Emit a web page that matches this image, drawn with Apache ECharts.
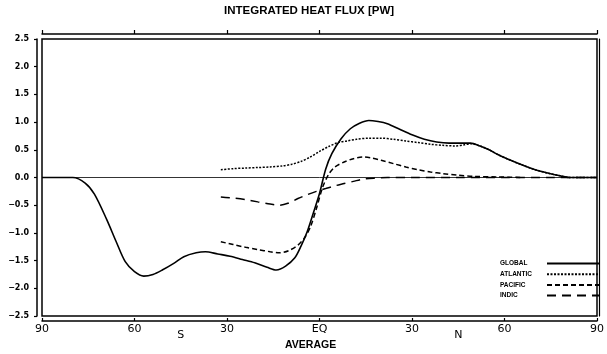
<!DOCTYPE html>
<html>
<head>
<meta charset="utf-8">
<script src="https://cdn.jsdelivr.net/npm/echarts@6/dist/echarts.min.js"></script>
<style>
html,body{margin:0;padding:0;background:#fff;}
#c{width:607px;height:354px;}
</style>
</head>
<body>
<div id="c"></div>
<script>
// Latitude (deg, negative = south) and integrated heat flux (PW)
const globalLat  = [-90,-80,-76,-73,-69,-66,-63,-60,-57,-54,-51,-47,-44,-40,-37,-33,-29,-25,-21,-17,-14,-11,-8,-6,-4,-2,0,2,4,7,10,13,16,19,22,26,30,34,38,42,46,49,52,55,58,62,66,70,74,78,81,85,90];
const globalFlux = [0,0,-0.10,-0.30,-0.76,-1.15,-1.52,-1.70,-1.78,-1.75,-1.67,-1.54,-1.43,-1.36,-1.34,-1.38,-1.42,-1.48,-1.54,-1.62,-1.67,-1.60,-1.45,-1.24,-0.98,-0.64,-0.29,0.15,0.43,0.70,0.88,0.98,1.03,1.01,0.97,0.87,0.77,0.69,0.64,0.62,0.62,0.62,0.57,0.50,0.41,0.31,0.22,0.14,0.08,0.03,0,0,0];

const atlanticLat  = [-32,-28,-24,-20,-16,-12,-9,-6,-3,0,3,6,9,12,16,20,24,28,32,36,40,44,47,49,52,55,58,62,66,70,74,78,81,85,90];
const atlanticFlux = [0.14,0.16,0.17,0.18,0.19,0.21,0.24,0.29,0.37,0.47,0.56,0.63,0.66,0.69,0.71,0.71,0.69,0.66,0.63,0.60,0.58,0.57,0.59,0.61,0.57,0.50,0.41,0.31,0.22,0.14,0.08,0.03,0,0,0];

const pacificLat  = [-32,-28,-24,-20,-16,-13,-10,-7,-5,-3,-1,1,3,5,8,11,14,17,20,24,28,32,36,40,45,50,58,66];
const pacificFlux = [-1.16,-1.21,-1.26,-1.30,-1.34,-1.36,-1.32,-1.22,-1.10,-0.90,-0.56,-0.18,0.06,0.19,0.28,0.34,0.37,0.35,0.31,0.25,0.19,0.14,0.10,0.07,0.04,0.02,0.01,0];

const indicLat  = [-32,-28,-24,-20,-16,-13,-10,-7,-4,-1,2,5,8,11,14,18,22,30,45,60,75,90];
const indicFlux = [-0.35,-0.37,-0.40,-0.44,-0.48,-0.50,-0.46,-0.38,-0.31,-0.25,-0.20,-0.15,-0.11,-0.07,-0.03,-0.01,0,0,0,0,0,0];

const seriesNames = ['GLOBAL','ATLANTIC','PACIFIC','INDIC'];
const latTicks = [-90,-60,-30,0,30,60,90];
const fluxTicks = [-2.5,-2.0,-1.5,-1.0,-0.5,0.0,0.5,1.0,1.5,2.0,2.5];

function zip(a,b){return a.map((v,i)=>[v,b[i]]);}

const chart = echarts.init(document.getElementById('c'), null, {renderer:'canvas'});
const black = '#000';
const option = {
  animation:false,
  backgroundColor:'#fff',
  grid:{left:42,right:7,top:39,bottom:38,show:true,borderColor:black,borderWidth:1.5,backgroundColor:'transparent'},
  graphic:[
    {type:'text',left:224,top:5,style:{text:'INTEGRATED HEAT FLUX [PW]',font:'bold 11.5px "Liberation Sans"',fill:black}},
    {type:'text',top:340,left:285,style:{text:'AVERAGE',font:'bold 10.5px "Liberation Sans"',fill:black}}
  ],
  legend:{
    data:seriesNames,
    orient:'vertical',
    left:500,top:260,padding:0,
    align:'right',
    itemWidth:52,itemHeight:6,itemGap:3.7,
    itemStyle:{opacity:0,borderWidth:0},
    formatter:name=>'{n|'+name+'}',
    textStyle:{fontFamily:'"Liberation Sans"',fontWeight:'bold',fontSize:6.5,color:black,
      rich:{n:{width:42,align:'left',fontFamily:'"Liberation Sans"',fontWeight:'bold',fontSize:6.5,color:black}}},
    inactiveColor:black
  },
  xAxis:[
    {type:'value',min:-90,max:90,interval:30,position:'bottom',offset:5,
     axisLine:{show:true,onZero:false,lineStyle:{color:black,width:1.5}},
     axisTick:{show:true,inside:true,length:3,lineStyle:{color:black,width:1.2}},
     axisLabel:{margin:3,color:black,fontFamily:'"DejaVu Sans"',fontSize:11,
       formatter:v=>v===0?'EQ':String(Math.abs(v))},
     splitLine:{show:false}},
    {type:'value',min:-90,max:90,interval:30,position:'top',offset:5,
     axisLine:{show:true,onZero:false,lineStyle:{color:black,width:1.5}},
     axisTick:{show:true,inside:false,length:4,lineStyle:{color:black,width:1.2}},
     axisLabel:{show:false},splitLine:{show:false}},
    {type:'value',min:-90,max:90,interval:45,position:'bottom',offset:5,
     axisLine:{show:false},axisTick:{show:false},splitLine:{show:false},
     axisLabel:{margin:9,color:black,fontFamily:'"DejaVu Sans"',fontSize:11,
       formatter:v=>v===-45?'S':(v===45?'N':'')}}
  ],
  yAxis:[
    {type:'value',min:-2.5,max:2.5,interval:0.5,position:'left',offset:5,
     axisLine:{show:true,onZero:false,lineStyle:{color:black,width:1.5}},
     axisTick:{show:true,inside:false,length:3,lineStyle:{color:black,width:1.2}},
     axisLabel:{margin:8,color:black,fontFamily:'"DejaVu Sans"',fontWeight:'bold',fontSize:8,
       formatter:v=>(v<0?'\u2212':'')+Math.abs(v).toFixed(1)},
     splitLine:{show:false}},
    {type:'value',min:-2.5,max:2.5,interval:0.5,position:'right',offset:2,
     axisLine:{show:true,onZero:false,lineStyle:{color:black,width:1.2}},
     axisTick:{show:false},axisLabel:{show:false},splitLine:{show:false}}
  ],
  series:[
    {name:'GLOBAL',type:'line',data:zip(globalLat,globalFlux),smooth:0.3,symbol:'none',
     lineStyle:{color:black,width:1.6,type:'solid'},itemStyle:{color:black},
     markLine:{silent:true,symbol:['none','none'],label:{show:false},
       lineStyle:{color:black,width:0.8,type:'solid'},data:[{yAxis:0}]}},
    {name:'ATLANTIC',type:'line',data:zip(atlanticLat,atlanticFlux),smooth:0.3,symbol:'none',
     lineStyle:{color:black,width:1.5,type:[2,1.5]},itemStyle:{color:black}},
    {name:'PACIFIC',type:'line',data:zip(pacificLat,pacificFlux),smooth:0.3,symbol:'none',
     lineStyle:{color:black,width:1.5,type:[5,3]},itemStyle:{color:black}},
    {name:'INDIC',type:'line',data:zip(indicLat,indicFlux),smooth:0.3,symbol:'none',
     lineStyle:{color:black,width:1.5,type:[9,6]},itemStyle:{color:black}}
  ]
};
chart.setOption(option);
</script>
</body>
</html>
